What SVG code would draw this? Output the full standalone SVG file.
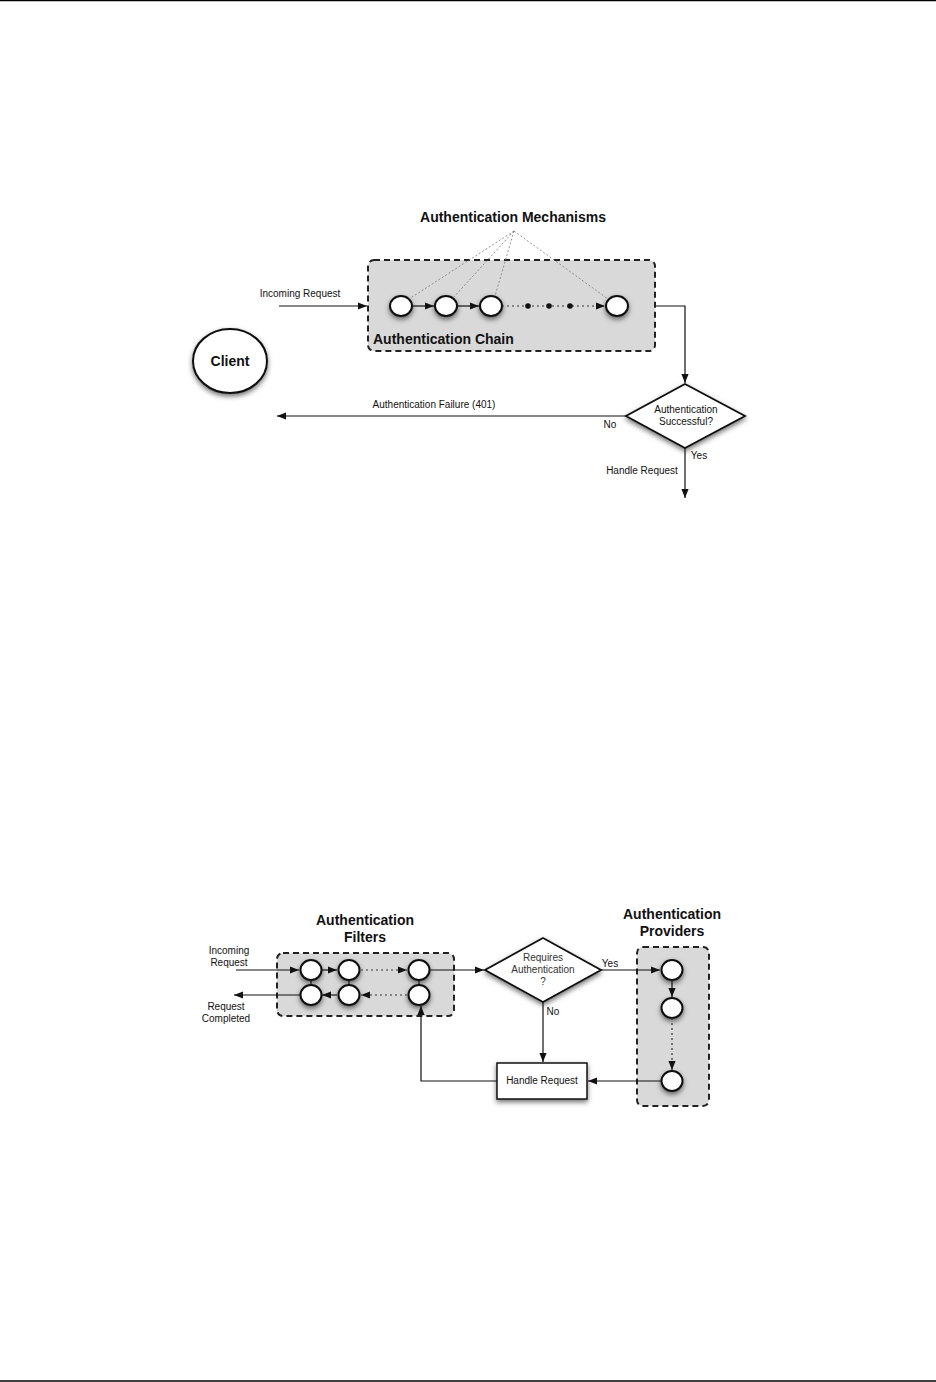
<svg xmlns="http://www.w3.org/2000/svg" width="936" height="1382" viewBox="0 0 936 1382">
<defs>
<style>
text{font-family:"Liberation Sans",Arial,sans-serif;fill:#111}
.t{font-weight:bold;font-size:14px}
.s{font-size:10px}
.d{font-size:10px;fill:#333}
.box{fill:#d9d9d9;stroke:#222;stroke-width:2;stroke-dasharray:6,4}
.node{fill:#fff;stroke:#111;stroke-width:2;filter:url(#sh)}
.ln{fill:none;stroke:#111;stroke-width:1.2}
.dot{fill:none;stroke:#333;stroke-width:1.2;stroke-dasharray:2,3}
.mech{fill:none;stroke:#777;stroke-width:0.8;stroke-dasharray:2,2}
</style>
<filter id="sh" x="-50%" y="-50%" width="200%" height="200%">
<feDropShadow dx="0" dy="2.5" stdDeviation="2.5" flood-color="#000" flood-opacity="0.55"/>
</filter>
<marker id="ar" viewBox="0 0 10 10" refX="10" refY="5" markerWidth="9" markerHeight="9" markerUnits="userSpaceOnUse" orient="auto">
<path d="M0,1 L10,5 L0,9 Z" fill="#111"/>
</marker>
</defs>
<rect width="936" height="1382" fill="#fff"/>
<line x1="0" y1="0.5" x2="936" y2="0.5" stroke="#000" stroke-width="1.5"/>
<line x1="0" y1="1381" x2="936" y2="1381" stroke="#000" stroke-width="1.5"/>

<!-- Top diagram -->
<g id="chain">
<rect class="box" x="368" y="260" width="287" height="91" rx="6"/>
<text class="t" x="373" y="344">Authentication Chain</text>
</g>
<g id="mechanisms">
<text class="t" x="513" y="222" text-anchor="middle">Authentication Mechanisms</text>
</g>
<g id="client">
<ellipse class="node" cx="230" cy="361" rx="37" ry="32"/>
<text class="t" x="230" y="366" text-anchor="middle">Client</text>
</g>
<g id="c1"><ellipse class="node" cx="401" cy="306" rx="11" ry="10"/></g>
<g id="c2"><ellipse class="node" cx="446" cy="306" rx="11" ry="10"/></g>
<g id="c3"><ellipse class="node" cx="491" cy="306" rx="11" ry="10"/></g>
<g id="c4"><ellipse class="node" cx="617" cy="306" rx="11" ry="10"/></g>
<g id="decision1">
<polygon points="685,384 745,416 685,448 626,416" fill="#fff" stroke="#111" stroke-width="1.8" filter="url(#sh)"/>
<text class="s" x="686" y="413" text-anchor="middle">Authentication</text>
<text class="s" x="686" y="425" text-anchor="middle">Successful?</text>
</g>

<g id="connectors1">
<line class="mech" x1="514" y1="231" x2="409" y2="299"/>
<line class="mech" x1="514" y1="231" x2="453" y2="298"/>
<line class="mech" x1="514" y1="231" x2="495" y2="296"/>
<line class="mech" x1="514" y1="231" x2="608" y2="299"/>
<line class="ln" x1="279" y1="306" x2="367" y2="306" marker-end="url(#ar)"/>
<text class="s" x="300" y="297" text-anchor="middle">Incoming Request</text>
<line class="ln" x1="412" y1="306" x2="434" y2="306" marker-end="url(#ar)"/>
<line class="ln" x1="457" y1="306" x2="479" y2="306" marker-end="url(#ar)"/>
<line class="dot" x1="502" y1="306" x2="605" y2="306" marker-end="url(#ar)"/>
<circle cx="528" cy="306" r="2.8" fill="#111"/>
<circle cx="549" cy="306" r="2.8" fill="#111"/>
<circle cx="570" cy="306" r="2.8" fill="#111"/>
<polyline class="ln" points="656,306 685,306 685,383" marker-end="url(#ar)"/>
<line class="ln" x1="626" y1="416" x2="277" y2="416" marker-end="url(#ar)"/>
<text class="s" x="434" y="408" text-anchor="middle">Authentication Failure (401)</text>
<text class="s" x="610" y="428" text-anchor="middle">No</text>
<line class="ln" x1="685" y1="448" x2="685" y2="498" marker-end="url(#ar)"/>
<text class="s" x="699" y="459" text-anchor="middle">Yes</text>
<text class="s" x="642" y="474" text-anchor="middle">Handle Request</text>
</g>

<!-- Bottom diagram -->
<g id="filters">
<text class="t" x="365" y="925" text-anchor="middle">Authentication</text>
<text class="t" x="365" y="942" text-anchor="middle">Filters</text>
<rect class="box" x="277" y="953" width="177" height="63" rx="6"/>
</g>
<g id="providers">
<text class="t" x="672" y="919" text-anchor="middle">Authentication</text>
<text class="t" x="672" y="936" text-anchor="middle">Providers</text>
<rect class="box" x="637" y="947" width="72" height="159" rx="6"/>
</g>
<g id="f1"><ellipse class="node" cx="311" cy="970" rx="10.5" ry="10"/></g>
<g id="f2"><ellipse class="node" cx="349" cy="970" rx="10.5" ry="10"/></g>
<g id="f3"><ellipse class="node" cx="419" cy="970" rx="10.5" ry="10"/></g>
<g id="f4"><ellipse class="node" cx="311" cy="995" rx="10.5" ry="10"/></g>
<g id="f5"><ellipse class="node" cx="349" cy="995" rx="10.5" ry="10"/></g>
<g id="f6"><ellipse class="node" cx="419" cy="995" rx="10.5" ry="10"/></g>
<g id="p1"><ellipse class="node" cx="672" cy="970" rx="10.5" ry="10"/></g>
<g id="p2"><ellipse class="node" cx="672" cy="1008" rx="10.5" ry="10"/></g>
<g id="p3"><ellipse class="node" cx="672" cy="1081" rx="10.5" ry="10"/></g>
<g id="decision2">
<polygon points="543,938 601,970 543,1002 485,970" fill="#fff" stroke="#111" stroke-width="1.8" filter="url(#sh)"/>
<text class="d" x="543" y="961" text-anchor="middle">Requires</text>
<text class="d" x="543" y="973" text-anchor="middle">Authentication</text>
<text class="d" x="543" y="985" text-anchor="middle">?</text>
</g>
<g id="handle">
<rect x="497" y="1063" width="90" height="36" fill="#fff" stroke="#111" stroke-width="1.5" filter="url(#sh)"/>
<text class="s" x="542" y="1084" text-anchor="middle">Handle Request</text>
</g>

<g id="connectors2">
<line class="ln" x1="236" y1="970" x2="299" y2="970" marker-end="url(#ar)"/>
<text class="s" x="229" y="954" text-anchor="middle">Incoming</text>
<text class="s" x="229" y="966" text-anchor="middle">Request</text>
<line class="ln" x1="322" y1="970" x2="337" y2="970" marker-end="url(#ar)"/>
<line class="dot" x1="361" y1="970" x2="407" y2="970" marker-end="url(#ar)"/>
<line class="dot" x1="407" y1="995" x2="361" y2="995" marker-end="url(#ar)"/>
<line class="ln" x1="337" y1="995" x2="322" y2="995" marker-end="url(#ar)"/>
<line class="ln" x1="300" y1="995" x2="234" y2="995" marker-end="url(#ar)"/>
<text class="s" x="226" y="1010" text-anchor="middle">Request</text>
<text class="s" x="226" y="1022" text-anchor="middle">Completed</text>
<line class="ln" x1="311" y1="980" x2="311" y2="985"/>
<line class="ln" x1="349" y1="980" x2="349" y2="985"/>
<line class="ln" x1="419" y1="980" x2="419" y2="985"/>
<line class="ln" x1="430" y1="970" x2="484" y2="970" marker-end="url(#ar)"/>
<line class="ln" x1="601" y1="970" x2="660" y2="970" marker-end="url(#ar)"/>
<text class="s" x="610" y="967" text-anchor="middle">Yes</text>
<line class="ln" x1="543" y1="1002" x2="543" y2="1062" marker-end="url(#ar)"/>
<text class="s" x="553" y="1015" text-anchor="middle">No</text>
<polyline class="ln" points="497,1081 421,1081 421,1006" marker-end="url(#ar)"/>
<line class="ln" x1="661" y1="1081" x2="588" y2="1081" marker-end="url(#ar)"/>
<line class="ln" x1="672" y1="980" x2="672" y2="997" marker-end="url(#ar)"/>
<line class="dot" x1="672" y1="1018" x2="672" y2="1070" marker-end="url(#ar)"/>
</g>
</svg>
